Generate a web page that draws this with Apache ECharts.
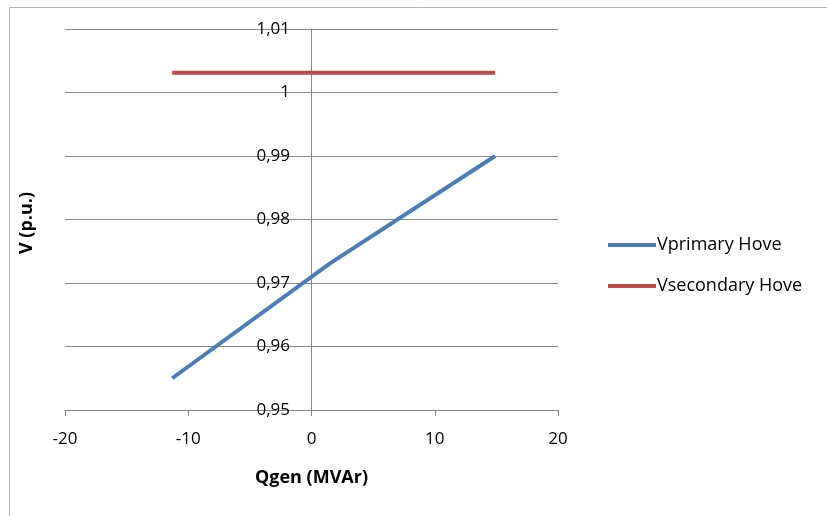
<!DOCTYPE html>
<html>
<head>
<meta charset="utf-8">
<script src="https://cdn.jsdelivr.net/npm/echarts@6/dist/echarts.min.js"></script>
<style>
  html, body { margin: 0; padding: 0; background: #fff; }
  #chart { width: 827px; height: 516px; }
</style>
</head>
<body>
<div id="chart"></div>
<script>
const qPrimary = [-11.3, 1.5, 14.9];
const vPrimary = [0.955, 0.9731, 0.990];
const qSecondary = [-11.3, 14.9];
const vSecondary = [1.0031, 1.0031];
const seriesNames = ['Vprimary Hove', 'Vsecondary Hove'];

const toPairs = (xs, ys) => xs.map((x, i) => [x, ys[i]]);
const fmtComma = v => String(Math.round(v * 100) / 100).replace('.', ',');
const font = 'Open Sans';

let myChart = echarts.init(document.getElementById('chart'));
myChart.setOption({
    animation: false,
    color: ['#4a7ebb', '#be4b48'],
    textStyle: { fontFamily: font },
    grid: { left: 65, right: 269, top: 29, bottom: 106 },
    legend: {
        orient: 'vertical',
        left: 603,
        top: 231,
        itemWidth: 48,
        itemHeight: 4,
        itemGap: 23,
        icon: 'rect',
        textStyle: { fontSize: 18, color: '#000', fontFamily: font, padding: [0, 0, 0, -4] },
        data: seriesNames
    },
    graphic: [
        {
            type: 'rect',
            left: 7, top: 5,
            shape: { width: 840, height: 510 },
            style: { fill: 'none', stroke: '#b4b4b4', lineWidth: 1 }
        },
        {
            type: 'text',
            left: 18, top: 192,
            rotation: Math.PI / 2,
            style: { text: 'V (p.u.)', fontSize: 18, fontWeight: 'bold', fill: '#000', fontFamily: font }
        }
    ],
    xAxis: {
        type: 'value',
        min: -20, max: 20, interval: 10,
        name: 'Qgen (MVAr)',
        nameLocation: 'middle',
        nameGap: 59,
        nameTextStyle: { fontSize: 18, fontWeight: 'bold', color: '#000' },
        axisLine: { onZero: false, lineStyle: { color: '#868686' } },
        axisTick: { show: true, length: 6, inside: false, lineStyle: { color: '#868686' } },
        axisLabel: { fontSize: 17, color: '#000', margin: 21 },
        splitLine: { show: false }
    },
    yAxis: {
        type: 'value',
        min: 0.95, max: 1.01, interval: 0.01,
        axisLine: { show: true, onZero: true, lineStyle: { color: '#868686' } },
        axisTick: { show: false },
        axisLabel: { fontSize: 17, color: '#000', margin: -225, padding: [7, 0, 0, 0], formatter: fmtComma },
        splitLine: { show: true, lineStyle: { color: '#868686', width: 1 } }
    },
    series: [
        {
            name: seriesNames[0],
            type: 'line',
            data: toPairs(qPrimary, vPrimary),
            symbol: 'none',
            lineStyle: { width: 4 }
        },
        {
            name: seriesNames[1],
            type: 'line',
            data: toPairs(qSecondary, vSecondary),
            symbol: 'none',
            lineStyle: { width: 4 }
        }
    ]
});
</script>
</body>
</html>
